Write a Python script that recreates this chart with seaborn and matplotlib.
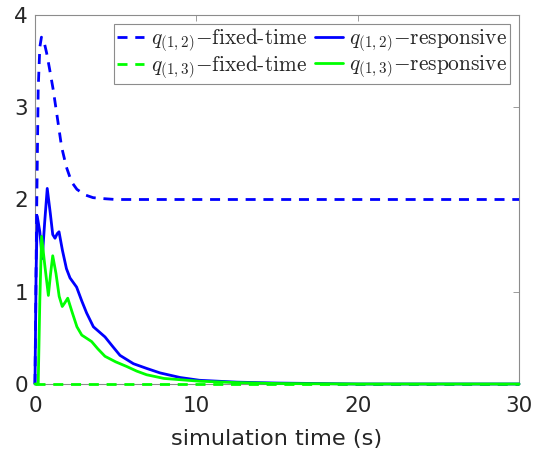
import matplotlib
matplotlib.use("Agg")
import matplotlib.pyplot as plt
import seaborn as sns
import pandas as pd

# ---- data ----
t_fixed12 = [0, 0.1, 0.2, 0.3, 0.4, 0.55, 0.72, 0.9, 1.13, 1.4, 1.65, 1.95, 2.27, 2.6, 3.1, 3.6, 4.2, 5, 10, 20, 30]
q_fixed12 = [0, 1.8, 3.2, 3.65, 3.76, 3.72, 3.59, 3.42, 3.19, 2.87, 2.57, 2.35, 2.19, 2.11, 2.05, 2.02, 2.01, 2.0, 2.0, 2.0, 2.0]

t_fixed13 = [0, 10, 20, 30]
q_fixed13 = [0, 0, 0, 0]

t_resp12 = [0, 0.07, 0.14, 0.3, 0.45, 0.6, 0.76, 0.95, 1.1, 1.24, 1.38, 1.49, 1.7, 1.95, 2.17, 2.58, 2.9, 3.2, 3.62, 4.34, 4.8, 5.27, 6.1, 6.9, 7.75, 9.0, 10.2, 12.5, 15, 20, 30]
q_resp12 = [0, 1.2, 1.82, 1.65, 1.36, 1.75, 2.12, 1.85, 1.62, 1.58, 1.63, 1.65, 1.45, 1.25, 1.15, 1.05, 0.9, 0.77, 0.62, 0.51, 0.41, 0.31, 0.22, 0.17, 0.12, 0.07, 0.04, 0.02, 0.01, 0.0, 0.0]

t_resp13 = [0, 0.2, 0.3, 0.41, 0.6, 0.83, 0.97, 1.1, 1.3, 1.5, 1.69, 1.85, 2.03, 2.3, 2.6, 2.9, 3.51, 3.9, 4.34, 5.0, 5.68, 6.3, 6.92, 8.0, 10.2, 12.5, 15, 20, 30]
q_resp13 = [0, 0, 0.9, 1.6, 1.3, 0.96, 1.2, 1.39, 1.2, 0.95, 0.84, 0.88, 0.93, 0.78, 0.62, 0.53, 0.46, 0.38, 0.30, 0.24, 0.19, 0.14, 0.10, 0.06, 0.03, 0.015, 0.005, 0.0, 0.0]

labels = [r"$q_{(1,2)}{-}$fixed-time", r"$q_{(1,3)}{-}$fixed-time",
          r"$q_{(1,2)}{-}$responsive", r"$q_{(1,3)}{-}$responsive"]
x_ticks = [0, 10, 20, 30]
y_ticks = [0, 1, 2, 3, 4]

sns.set_style("white")
plt.rcParams["font.family"] = ["DejaVu Sans"]
plt.rcParams["mathtext.fontset"] = "cm"

fig = plt.figure(figsize=(5.34, 4.51), dpi=100)
ax = fig.add_axes([0.0655, 0.1486, 0.9065, 0.8181])

blue = "#0000FF"
green = "#00FF00"
series = [
    (t_fixed12, q_fixed12, blue, True),
    (t_fixed13, q_fixed13, green, True),
    (t_resp12, q_resp12, blue, False),
    (t_resp13, q_resp13, green, False),
]
for (t, q, c, dashed), lab in zip(series, labels):
    df = pd.DataFrame({"t": t, "q": q})
    sns.lineplot(data=df, x="t", y="q", ax=ax, color=c, lw=2.0,
                 label=lab, sort=False)
    ln = ax.lines[-1]
    ln.set_clip_on(False)
    ln.set_zorder(3)
    if dashed:
        ln.set_dashes((3.6, 2.8))

ax.set_xlim(0, 30)
ax.set_ylim(0, 4)
ax.set_xticks(x_ticks)
ax.set_yticks(y_ticks)
ax.set_xlabel("simulation time (s)", fontsize=16.2, color="#262626", labelpad=9)
ax.set_ylabel("")
ax.tick_params(direction="in", length=4, width=0.6, colors="#262626",
               labelsize=15.5, top=True, right=True)
ax.tick_params(axis="x", pad=9)
ax.tick_params(axis="y", pad=5)
for s in ax.spines.values():
    s.set_color("#8c8c8c")
    s.set_linewidth(0.8)
    s.set_zorder(2)
ax.tick_params(color="#8c8c8c")

leg = ax.legend(ncol=2, loc="upper right", fontsize=15.4, frameon=True,
                fancybox=False, edgecolor="#8c8c8c", framealpha=1,
                handlelength=1.3, handletextpad=0.3, columnspacing=0.4,
                borderpad=0.12, labelspacing=0.0, borderaxespad=0.42)
leg.get_frame().set_linewidth(0.8)
leg.set_zorder(5)
for txt in leg.get_texts():
    txt.set_family(["cmr10", "DejaVu Serif"])

fig.savefig("out.png", dpi=100)
